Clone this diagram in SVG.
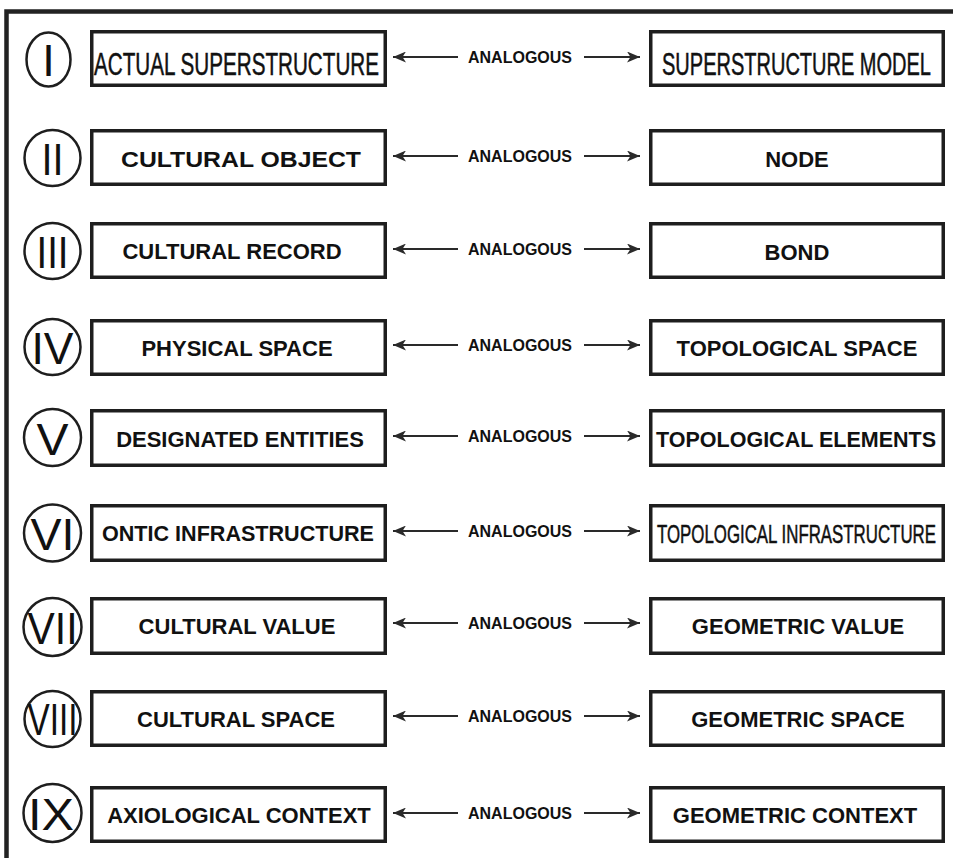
<svg xmlns="http://www.w3.org/2000/svg" width="953" height="858" viewBox="0 0 953 858">
<style>
.frame{fill:none;stroke:#222;stroke-width:4.5}
.box{fill:#fff;stroke:#1e1e1e;stroke-width:3.5}
.ring{fill:none;stroke:#1e1e1e;stroke-width:2.5}
.num{font-family:"Liberation Sans",Arial,sans-serif;font-size:45px;fill:#111;text-anchor:middle}
.lbl{font-family:"Liberation Sans",Arial,sans-serif;font-size:22px;font-weight:bold;fill:#111;text-anchor:middle}
.cond{font-family:"Liberation Sans Narrow","Liberation Sans",Arial,sans-serif;fill:#111;stroke:#111;stroke-width:0.5}
.ana{font-family:"Liberation Sans",Arial,sans-serif;font-size:16px;font-weight:bold;fill:#111;text-anchor:middle}
.arr{stroke:#2a2a2a;stroke-width:2.2;fill:none;marker-end:url(#ah)}
</style>
<defs>
<marker id="ah" markerUnits="userSpaceOnUse" markerWidth="14" markerHeight="11" refX="13" refY="5.5" orient="auto">
<path d="M0,0 L13,5.5 L0,11 L3.5,5.5 Z" fill="#2a2a2a"/>
</marker>
</defs>
<path class="frame" d="M6.5,858 V11.5 H953"/>

<g id="row1">
<ellipse class="ring" cx="48.5" cy="59.5" rx="22" ry="27"/>
<text class="num" x="48.5" y="75.5">I</text>
<rect class="box" x="91.75" y="31.75" width="293.5" height="53.5"/>
<text class="cond" x="94" y="75" font-size="31" textLength="285" lengthAdjust="spacingAndGlyphs">ACTUAL SUPERSTRUCTURE</text>
<rect class="box" x="650.75" y="31.75" width="292.5" height="53.5"/>
<text class="cond" x="662" y="75" font-size="31" textLength="269" lengthAdjust="spacingAndGlyphs">SUPERSTRUCTURE MODEL</text>
</g>

<g id="row2">
<circle class="ring" cx="52.5" cy="158" r="28"/>
<text class="num" x="52.5" y="175" textLength="22" lengthAdjust="spacingAndGlyphs">II</text>
<rect class="box" x="91.75" y="130.75" width="293.5" height="53.5"/>
<text class="lbl" x="241" y="166.5" font-size="24" textLength="240" lengthAdjust="spacingAndGlyphs">CULTURAL OBJECT</text>
<rect class="box" x="650.75" y="130.75" width="292.5" height="53.5"/>
<text class="lbl" x="797" y="166.5" font-size="24">NODE</text>
</g>

<g id="row3">
<circle class="ring" cx="52.5" cy="251" r="28"/>
<text class="num" x="52.5" y="268" textLength="32" lengthAdjust="spacingAndGlyphs">III</text>
<rect class="box" x="91.75" y="223.75" width="293.5" height="53.5"/>
<text class="lbl" x="232" y="259">CULTURAL RECORD</text>
<rect class="box" x="650.75" y="223.75" width="292.5" height="53.5"/>
<text class="lbl" x="797" y="259.5" font-size="24">BOND</text>
</g>

<g id="row4">
<circle class="ring" cx="52.5" cy="347" r="28"/>
<text class="num" x="52.5" y="364" textLength="42" lengthAdjust="spacingAndGlyphs">IV</text>
<rect class="box" x="91.75" y="320.75" width="293.5" height="53.5"/>
<text class="lbl" x="237" y="356">PHYSICAL SPACE</text>
<rect class="box" x="650.75" y="320.75" width="292.5" height="53.5"/>
<text class="lbl" x="797" y="356">TOPOLOGICAL SPACE</text>
</g>

<g id="row5">
<circle class="ring" cx="52.5" cy="437.5" r="28.5"/>
<text class="num" x="52.5" y="454.5" textLength="32" lengthAdjust="spacingAndGlyphs">V</text>
<rect class="box" x="91.75" y="410.75" width="293.5" height="54.5"/>
<text class="lbl" x="240" y="446.5">DESIGNATED ENTITIES</text>
<rect class="box" x="650.75" y="410.75" width="292.5" height="54.5"/>
<text class="lbl" x="796" y="446.5" textLength="280" lengthAdjust="spacingAndGlyphs">TOPOLOGICAL ELEMENTS</text>
</g>

<g id="row6">
<circle class="ring" cx="52.5" cy="533" r="28.5"/>
<text class="num" x="52.5" y="550" textLength="44" lengthAdjust="spacingAndGlyphs">VI</text>
<rect class="box" x="91.75" y="505.75" width="293.5" height="54.5"/>
<text class="lbl" x="238" y="541" textLength="272" lengthAdjust="spacingAndGlyphs">ONTIC INFRASTRUCTURE</text>
<rect class="box" x="650.75" y="505.75" width="292.5" height="54.5"/>
<text class="cond" x="657" y="543" font-size="25" textLength="279" lengthAdjust="spacingAndGlyphs">TOPOLOGICAL INFRASTRUCTURE</text>
</g>

<g id="row7">
<circle class="ring" cx="52.5" cy="627" r="29"/>
<text class="num" x="52.5" y="644" textLength="50" lengthAdjust="spacingAndGlyphs">VII</text>
<rect class="box" x="91.75" y="598.75" width="293.5" height="54.5"/>
<text class="lbl" x="237" y="634">CULTURAL VALUE</text>
<rect class="box" x="650.75" y="598.75" width="292.5" height="54.5"/>
<text class="lbl" x="798" y="634">GEOMETRIC VALUE</text>
</g>

<g id="row8">
<circle class="ring" cx="52.5" cy="719" r="28"/>
<text class="num" x="52.5" y="735" font-size="40" textLength="50" lengthAdjust="spacingAndGlyphs">VIII</text>
<rect class="box" x="91.75" y="691.75" width="293.5" height="53.5"/>
<text class="lbl" x="236" y="726.5">CULTURAL SPACE</text>
<rect class="box" x="650.75" y="691.75" width="292.5" height="53.5"/>
<text class="lbl" x="798" y="726.5">GEOMETRIC SPACE</text>
</g>

<g id="row9">
<circle class="ring" cx="52.5" cy="813" r="29"/>
<text class="num" x="51" y="830" textLength="46" lengthAdjust="spacingAndGlyphs">IX</text>
<rect class="box" x="91.75" y="787.75" width="293.5" height="53.5"/>
<text class="lbl" x="239" y="823">AXIOLOGICAL CONTEXT</text>
<rect class="box" x="650.75" y="787.75" width="292.5" height="53.5"/>
<text class="lbl" x="795" y="823">GEOMETRIC CONTEXT</text>
</g>

<g id="connectors">
<line class="arr" x1="458" y1="57" x2="393" y2="57"/><text class="ana" x="520" y="63">ANALOGOUS</text><line class="arr" x1="584" y1="57" x2="640" y2="57"/>
<line class="arr" x1="458" y1="156" x2="393" y2="156"/><text class="ana" x="520" y="162">ANALOGOUS</text><line class="arr" x1="584" y1="156" x2="640" y2="156"/>
<line class="arr" x1="458" y1="249" x2="393" y2="249"/><text class="ana" x="520" y="255">ANALOGOUS</text><line class="arr" x1="584" y1="249" x2="640" y2="249"/>
<line class="arr" x1="458" y1="345" x2="393" y2="345"/><text class="ana" x="520" y="351">ANALOGOUS</text><line class="arr" x1="584" y1="345" x2="640" y2="345"/>
<line class="arr" x1="458" y1="436" x2="393" y2="436"/><text class="ana" x="520" y="442">ANALOGOUS</text><line class="arr" x1="584" y1="436" x2="640" y2="436"/>
<line class="arr" x1="458" y1="531" x2="393" y2="531"/><text class="ana" x="520" y="537">ANALOGOUS</text><line class="arr" x1="584" y1="531" x2="640" y2="531"/>
<line class="arr" x1="458" y1="623" x2="393" y2="623"/><text class="ana" x="520" y="629">ANALOGOUS</text><line class="arr" x1="584" y1="623" x2="640" y2="623"/>
<line class="arr" x1="458" y1="716" x2="393" y2="716"/><text class="ana" x="520" y="722">ANALOGOUS</text><line class="arr" x1="584" y1="716" x2="640" y2="716"/>
<line class="arr" x1="458" y1="813" x2="393" y2="813"/><text class="ana" x="520" y="819">ANALOGOUS</text><line class="arr" x1="584" y1="813" x2="640" y2="813"/>
</g>
</svg>
